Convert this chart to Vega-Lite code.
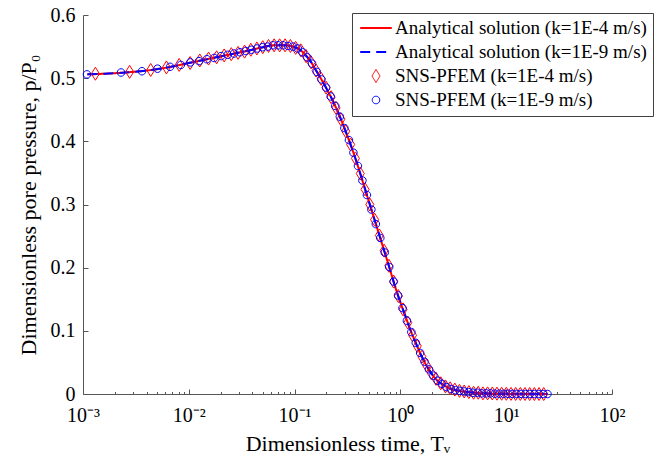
{
  "$schema": "https://vega.github.io/schema/vega-lite/v6.json",
  "width": 529,
  "height": 379,
  "autosize": "none",
  "padding": {"left": 83, "top": 15, "right": 42, "bottom": 71},
  "background": "white",
  "config": {
    "view": {"stroke": null},
    "font": "Liberation Serif",
    "axis": {
      "grid": false,
      "domainColor": "#555555",
      "domainWidth": 1,
      "tickColor": "#555555",
      "tickWidth": 1,
      "labelFont": "Liberation Serif",
      "labelFontSize": 20,
      "labelColor": "#000000",
      "titleFont": "Liberation Serif",
      "titleFontWeight": "normal",
      "titleColor": "#000000",
      "titleFontSize": 22,
      "labelOverlap": false,
      "labelFlush": false
    },
    "legend": {
      "orient": "none",
      "legendX": 269,
      "legendY": -2,
      "strokeColor": "#404040",
      "fillColor": "#ffffff",
      "padding": 5.5,
      "labelFont": "Liberation Serif",
      "labelFontSize": 19,
      "labelColor": "#000000",
      "labelLimit": 400,
      "symbolSize": 169,
      "symbolOffset": 9,
      "labelOffset": 9.5,
      "rowPadding": 4,
      "symbolStrokeWidth": 1
    }
  },
  "datasets": {
    "lines": [
      {"s": "A4", "t": 0.0011, "p": 0.506}, {"s": "A4", "t": 0.001585, "p": 0.507}, {"s": "A4", "t": 0.002512, "p": 0.509},
      {"s": "A4", "t": 0.003981, "p": 0.512}, {"s": "A4", "t": 0.00631, "p": 0.517}, {"s": "A4", "t": 0.01, "p": 0.524},
      {"s": "A4", "t": 0.01585, "p": 0.531}, {"s": "A4", "t": 0.02512, "p": 0.538}, {"s": "A4", "t": 0.03981, "p": 0.545},
      {"s": "A4", "t": 0.05012, "p": 0.549}, {"s": "A4", "t": 0.0631, "p": 0.552}, {"s": "A4", "t": 0.07943, "p": 0.552},
      {"s": "A4", "t": 0.1, "p": 0.549}, {"s": "A4", "t": 0.1122, "p": 0.545}, {"s": "A4", "t": 0.1259, "p": 0.537},
      {"s": "A4", "t": 0.1413, "p": 0.527}, {"s": "A4", "t": 0.1585, "p": 0.513}, {"s": "A4", "t": 0.1778, "p": 0.499},
      {"s": "A4", "t": 0.1995, "p": 0.484}, {"s": "A4", "t": 0.2239, "p": 0.468}, {"s": "A4", "t": 0.2512, "p": 0.45},
      {"s": "A4", "t": 0.2818, "p": 0.43}, {"s": "A4", "t": 0.3162, "p": 0.408}, {"s": "A4", "t": 0.3548, "p": 0.385},
      {"s": "A4", "t": 0.3981, "p": 0.36}, {"s": "A4", "t": 0.4467, "p": 0.333}, {"s": "A4", "t": 0.5012, "p": 0.306},
      {"s": "A4", "t": 0.5623, "p": 0.279}, {"s": "A4", "t": 0.631, "p": 0.252}, {"s": "A4", "t": 0.7079, "p": 0.225},
      {"s": "A4", "t": 0.7943, "p": 0.198}, {"s": "A4", "t": 0.8913, "p": 0.17}, {"s": "A4", "t": 1, "p": 0.145},
      {"s": "A4", "t": 1.122, "p": 0.122}, {"s": "A4", "t": 1.259, "p": 0.099}, {"s": "A4", "t": 1.413, "p": 0.079},
      {"s": "A4", "t": 1.585, "p": 0.06}, {"s": "A4", "t": 1.778, "p": 0.044}, {"s": "A4", "t": 1.995, "p": 0.031},
      {"s": "A4", "t": 2.239, "p": 0.021}, {"s": "A4", "t": 2.512, "p": 0.015}, {"s": "A4", "t": 2.818, "p": 0.01},
      {"s": "A4", "t": 3.162, "p": 0.007}, {"s": "A4", "t": 3.981, "p": 0.004}, {"s": "A4", "t": 5.012, "p": 0.002},
      {"s": "A4", "t": 6.31, "p": 0.001}, {"s": "A4", "t": 10, "p": 0.0002}, {"s": "A4", "t": 15.85, "p": 0},
      {"s": "A4", "t": 24.55, "p": 0},
      {"s": "A9", "t": 0.0011, "p": 0.506}, {"s": "A9", "t": 0.001585, "p": 0.507}, {"s": "A9", "t": 0.002512, "p": 0.509},
      {"s": "A9", "t": 0.003981, "p": 0.512}, {"s": "A9", "t": 0.00631, "p": 0.517}, {"s": "A9", "t": 0.01, "p": 0.524},
      {"s": "A9", "t": 0.01585, "p": 0.531}, {"s": "A9", "t": 0.02512, "p": 0.538}, {"s": "A9", "t": 0.03981, "p": 0.545},
      {"s": "A9", "t": 0.05012, "p": 0.549}, {"s": "A9", "t": 0.0631, "p": 0.552}, {"s": "A9", "t": 0.07943, "p": 0.552},
      {"s": "A9", "t": 0.1, "p": 0.549}, {"s": "A9", "t": 0.1122, "p": 0.545}, {"s": "A9", "t": 0.1259, "p": 0.537},
      {"s": "A9", "t": 0.1413, "p": 0.527}, {"s": "A9", "t": 0.1585, "p": 0.513}, {"s": "A9", "t": 0.1778, "p": 0.499},
      {"s": "A9", "t": 0.1995, "p": 0.484}, {"s": "A9", "t": 0.2239, "p": 0.468}, {"s": "A9", "t": 0.2512, "p": 0.45},
      {"s": "A9", "t": 0.2818, "p": 0.43}, {"s": "A9", "t": 0.3162, "p": 0.408}, {"s": "A9", "t": 0.3548, "p": 0.385},
      {"s": "A9", "t": 0.3981, "p": 0.36}, {"s": "A9", "t": 0.4467, "p": 0.333}, {"s": "A9", "t": 0.5012, "p": 0.306},
      {"s": "A9", "t": 0.5623, "p": 0.279}, {"s": "A9", "t": 0.631, "p": 0.252}, {"s": "A9", "t": 0.7079, "p": 0.225},
      {"s": "A9", "t": 0.7943, "p": 0.198}, {"s": "A9", "t": 0.8913, "p": 0.17}, {"s": "A9", "t": 1, "p": 0.145},
      {"s": "A9", "t": 1.122, "p": 0.122}, {"s": "A9", "t": 1.259, "p": 0.099}, {"s": "A9", "t": 1.413, "p": 0.079},
      {"s": "A9", "t": 1.585, "p": 0.06}, {"s": "A9", "t": 1.778, "p": 0.044}, {"s": "A9", "t": 1.995, "p": 0.031},
      {"s": "A9", "t": 2.239, "p": 0.021}, {"s": "A9", "t": 2.512, "p": 0.015}, {"s": "A9", "t": 2.818, "p": 0.01},
      {"s": "A9", "t": 3.162, "p": 0.007}, {"s": "A9", "t": 3.981, "p": 0.004}, {"s": "A9", "t": 5.012, "p": 0.002},
      {"s": "A9", "t": 6.31, "p": 0.001}, {"s": "A9", "t": 10, "p": 0.0002}, {"s": "A9", "t": 15.85, "p": 0},
      {"s": "A9", "t": 24.55, "p": 0}
    ],
    "pts": [
      {"s": "S4", "t": 0.00131, "p": 0.507}, {"s": "S4", "t": 0.00276, "p": 0.51}, {"s": "S4", "t": 0.004365, "p": 0.513},
      {"s": "S4", "t": 0.006143, "p": 0.517}, {"s": "S4", "t": 0.00811, "p": 0.521}, {"s": "S4", "t": 0.01029, "p": 0.524},
      {"s": "S4", "t": 0.0127, "p": 0.528}, {"s": "S4", "t": 0.01537, "p": 0.531}, {"s": "S4", "t": 0.01832, "p": 0.533},
      {"s": "S4", "t": 0.02159, "p": 0.536}, {"s": "S4", "t": 0.02521, "p": 0.538}, {"s": "S4", "t": 0.02922, "p": 0.54},
      {"s": "S4", "t": 0.03366, "p": 0.542}, {"s": "S4", "t": 0.03857, "p": 0.545}, {"s": "S4", "t": 0.04401, "p": 0.547},
      {"s": "S4", "t": 0.05002, "p": 0.549}, {"s": "S4", "t": 0.05669, "p": 0.551}, {"s": "S4", "t": 0.06406, "p": 0.552},
      {"s": "S4", "t": 0.07223, "p": 0.552}, {"s": "S4", "t": 0.08126, "p": 0.552}, {"s": "S4", "t": 0.09127, "p": 0.551},
      {"s": "S4", "t": 0.1023, "p": 0.548}, {"s": "S4", "t": 0.1146, "p": 0.544}, {"s": "S4", "t": 0.1282, "p": 0.535},
      {"s": "S4", "t": 0.1432, "p": 0.525}, {"s": "S4", "t": 0.1598, "p": 0.512}, {"s": "S4", "t": 0.1783, "p": 0.499},
      {"s": "S4", "t": 0.1986, "p": 0.485}, {"s": "S4", "t": 0.2212, "p": 0.47}, {"s": "S4", "t": 0.2462, "p": 0.453},
      {"s": "S4", "t": 0.2738, "p": 0.435}, {"s": "S4", "t": 0.3044, "p": 0.416}, {"s": "S4", "t": 0.3383, "p": 0.395},
      {"s": "S4", "t": 0.3758, "p": 0.373}, {"s": "S4", "t": 0.4174, "p": 0.349}, {"s": "S4", "t": 0.4633, "p": 0.324},
      {"s": "S4", "t": 0.5142, "p": 0.3}, {"s": "S4", "t": 0.5705, "p": 0.276}, {"s": "S4", "t": 0.6329, "p": 0.251},
      {"s": "S4", "t": 0.7019, "p": 0.227}, {"s": "S4", "t": 0.7783, "p": 0.203}, {"s": "S4", "t": 0.8629, "p": 0.178},
      {"s": "S4", "t": 0.9566, "p": 0.155}, {"s": "S4", "t": 1.06, "p": 0.134}, {"s": "S4", "t": 1.175, "p": 0.113},
      {"s": "S4", "t": 1.302, "p": 0.093}, {"s": "S4", "t": 1.443, "p": 0.076}, {"s": "S4", "t": 1.598, "p": 0.059},
      {"s": "S4", "t": 1.771, "p": 0.045}, {"s": "S4", "t": 1.961, "p": 0.033}, {"s": "S4", "t": 2.173, "p": 0.024},
      {"s": "S4", "t": 2.406, "p": 0.017}, {"s": "S4", "t": 2.665, "p": 0.012}, {"s": "S4", "t": 2.952, "p": 0.009},
      {"s": "S4", "t": 3.269, "p": 0.007}, {"s": "S4", "t": 3.62, "p": 0.005}, {"s": "S4", "t": 4.008, "p": 0.004},
      {"s": "S4", "t": 4.439, "p": 0.003}, {"s": "S4", "t": 4.915, "p": 0.002}, {"s": "S4", "t": 5.442, "p": 0.002},
      {"s": "S4", "t": 6.026, "p": 0.001}, {"s": "S4", "t": 6.672, "p": 0.001}, {"s": "S4", "t": 7.387, "p": 0.0008},
      {"s": "S4", "t": 8.179, "p": 0.0005}, {"s": "S4", "t": 9.055, "p": 0.0004}, {"s": "S4", "t": 10.03, "p": 0.0003},
      {"s": "S4", "t": 11.1, "p": 0.0002}, {"s": "S4", "t": 12.29, "p": 0.0001}, {"s": "S4", "t": 13.6, "p": 0.0001},
      {"s": "S4", "t": 15.06, "p": 0}, {"s": "S4", "t": 16.67, "p": 0}, {"s": "S4", "t": 18.46, "p": 0},
      {"s": "S4", "t": 20.44, "p": 0}, {"s": "S4", "t": 22.62, "p": 0},
      {"s": "S9", "t": 0.00109, "p": 0.506}, {"s": "S9", "t": 0.002289, "p": 0.509}, {"s": "S9", "t": 0.003608, "p": 0.511},
      {"s": "S9", "t": 0.005059, "p": 0.515}, {"s": "S9", "t": 0.006655, "p": 0.518}, {"s": "S9", "t": 0.00841, "p": 0.521},
      {"s": "S9", "t": 0.01034, "p": 0.525}, {"s": "S9", "t": 0.01247, "p": 0.527}, {"s": "S9", "t": 0.0148, "p": 0.53},
      {"s": "S9", "t": 0.01737, "p": 0.532}, {"s": "S9", "t": 0.0202, "p": 0.535}, {"s": "S9", "t": 0.02331, "p": 0.537},
      {"s": "S9", "t": 0.02673, "p": 0.539}, {"s": "S9", "t": 0.03049, "p": 0.541}, {"s": "S9", "t": 0.03463, "p": 0.543},
      {"s": "S9", "t": 0.03919, "p": 0.545}, {"s": "S9", "t": 0.04419, "p": 0.547}, {"s": "S9", "t": 0.0497, "p": 0.549},
      {"s": "S9", "t": 0.05576, "p": 0.55}, {"s": "S9", "t": 0.06243, "p": 0.552}, {"s": "S9", "t": 0.06976, "p": 0.552},
      {"s": "S9", "t": 0.07783, "p": 0.552}, {"s": "S9", "t": 0.0867, "p": 0.551}, {"s": "S9", "t": 0.09646, "p": 0.55},
      {"s": "S9", "t": 0.1072, "p": 0.547}, {"s": "S9", "t": 0.119, "p": 0.541}, {"s": "S9", "t": 0.132, "p": 0.533},
      {"s": "S9", "t": 0.1463, "p": 0.523}, {"s": "S9", "t": 0.162, "p": 0.51}, {"s": "S9", "t": 0.1793, "p": 0.498},
      {"s": "S9", "t": 0.1983, "p": 0.485}, {"s": "S9", "t": 0.2192, "p": 0.471}, {"s": "S9", "t": 0.2423, "p": 0.456},
      {"s": "S9", "t": 0.2676, "p": 0.439}, {"s": "S9", "t": 0.2954, "p": 0.421}, {"s": "S9", "t": 0.3261, "p": 0.402},
      {"s": "S9", "t": 0.3597, "p": 0.382}, {"s": "S9", "t": 0.3968, "p": 0.361}, {"s": "S9", "t": 0.4376, "p": 0.338},
      {"s": "S9", "t": 0.4824, "p": 0.315}, {"s": "S9", "t": 0.5318, "p": 0.292}, {"s": "S9", "t": 0.586, "p": 0.269},
      {"s": "S9", "t": 0.6457, "p": 0.247}, {"s": "S9", "t": 0.7114, "p": 0.224}, {"s": "S9", "t": 0.7836, "p": 0.201},
      {"s": "S9", "t": 0.8631, "p": 0.178}, {"s": "S9", "t": 0.9505, "p": 0.156}, {"s": "S9", "t": 1.047, "p": 0.136},
      {"s": "S9", "t": 1.152, "p": 0.116}, {"s": "S9", "t": 1.269, "p": 0.098}, {"s": "S9", "t": 1.397, "p": 0.081},
      {"s": "S9", "t": 1.537, "p": 0.065}, {"s": "S9", "t": 1.692, "p": 0.051}, {"s": "S9", "t": 1.863, "p": 0.039},
      {"s": "S9", "t": 2.05, "p": 0.029}, {"s": "S9", "t": 2.256, "p": 0.021}, {"s": "S9", "t": 2.483, "p": 0.016},
      {"s": "S9", "t": 2.732, "p": 0.011}, {"s": "S9", "t": 3.006, "p": 0.008}, {"s": "S9", "t": 3.308, "p": 0.006},
      {"s": "S9", "t": 3.64, "p": 0.005}, {"s": "S9", "t": 4.005, "p": 0.004}, {"s": "S9", "t": 4.407, "p": 0.003},
      {"s": "S9", "t": 4.848, "p": 0.002}, {"s": "S9", "t": 5.334, "p": 0.002}, {"s": "S9", "t": 5.869, "p": 0.001},
      {"s": "S9", "t": 6.457, "p": 0.001}, {"s": "S9", "t": 7.103, "p": 0.001}, {"s": "S9", "t": 7.815, "p": 0.0005},
      {"s": "S9", "t": 8.597, "p": 0.0005}, {"s": "S9", "t": 9.458, "p": 0.0003}, {"s": "S9", "t": 10.41, "p": 0.0003},
      {"s": "S9", "t": 11.45, "p": 0.0002}, {"s": "S9", "t": 12.59, "p": 0.0001}, {"s": "S9", "t": 13.85, "p": 0.0001},
      {"s": "S9", "t": 15.24, "p": 0}, {"s": "S9", "t": 16.76, "p": 0}, {"s": "S9", "t": 18.44, "p": 0},
      {"s": "S9", "t": 20.29, "p": 0}, {"s": "S9", "t": 22.32, "p": 0}, {"s": "S9", "t": 24.55, "p": 0}
    ]
  },
  "layer": [
    {
      "data": {"name": "lines"},
      "mark": {"type": "line", "strokeWidth": 2, "interpolate": "monotone"},
      "encoding": {
        "x": {
          "field": "t", "type": "quantitative",
          "scale": {"type": "log", "domain": [0.001, 100], "nice": false},
          "axis": {
            "title": "Dimensionless time, Tᵥ",
            "titlePadding": 6,
            "values": [0.001, 0.002, 0.003, 0.004, 0.005, 0.006, 0.007, 0.008, 0.009,
                       0.01, 0.02, 0.03, 0.04, 0.05, 0.06, 0.07, 0.08, 0.09,
                       0.1, 0.2, 0.3, 0.4, 0.5, 0.6, 0.7, 0.8, 0.9,
                       1, 2, 3, 4, 5, 6, 7, 8, 9,
                       10, 20, 30, 40, 50, 60, 70, 80, 90, 100],
            "labelExpr": "datum.value === 0.001 ? '10⁻³' : datum.value === 0.01 ? '10⁻²' : datum.value === 0.1 ? '10⁻¹' : datum.value === 1 ? '10⁰' : datum.value === 10 ? '10¹' : datum.value === 100 ? '10²' : ''",
            "tickSize": {"condition": {"test": "indexof([0.001, 0.01, 0.1, 1, 10, 100], datum.value) >= 0", "value": -5}, "value": -2.5},
            "labelPadding": 16
          }
        },
        "y": {
          "field": "p", "type": "quantitative",
          "scale": {"domain": [0, 0.6], "nice": false, "zero": false},
          "axis": {
            "title": "Dimensionless pore pressure, p/P₀",
            "values": [0, 0.1, 0.2, 0.3, 0.4, 0.5, 0.6],
            "format": "~g",
            "tickSize": -5,
            "labelPadding": 13,
            "titlePadding": 10
          }
        },
        "color": {
          "field": "s", "type": "nominal", "title": null,
          "scale": {"domain": ["A4", "A9", "S4", "S9"], "range": ["#ff0000", "#0000ff", "#ff0000", "#0000ff"]},
          "legend": {
            "labelExpr": "datum.value === 'A4' ? 'Analytical solution (k=1E-4 m/s)' : datum.value === 'A9' ? 'Analytical solution (k=1E-9 m/s)' : datum.value === 'S4' ? 'SNS-PFEM (k=1E-4 m/s)' : 'SNS-PFEM (k=1E-9 m/s)'",
            "encode": {"symbols": {"update": {
              "size": {"signal": "datum.value === 'A4' || datum.value === 'A9' ? 1000 : 169"},
              "strokeWidth": {"signal": "datum.value === 'A4' || datum.value === 'A9' ? 2 : 1"},
              "fill": {"value": "transparent"}
            }}}
          }
        },
        "strokeDash": {
          "field": "s", "type": "nominal", "title": null,
          "scale": {"domain": ["A4", "A9", "S4", "S9"], "range": [[1, 0], [10, 6], [1, 0], [1, 0]]}
        }
      }
    },
    {
      "data": {"name": "pts"},
      "mark": {"type": "point", "filled": false, "strokeWidth": 1, "size": 169, "opacity": 1},
      "encoding": {
        "x": {"field": "t", "type": "quantitative"},
        "y": {"field": "p", "type": "quantitative"},
        "color": {"field": "s", "type": "nominal", "title": null},
        "shape": {
          "field": "s", "type": "nominal", "title": null,
          "scale": {"domain": ["A4", "A9", "S4", "S9"], "range": ["stroke", "stroke", "M0,-1L0.62,0L0,1L-0.62,0Z", "M0.58,0A0.58,0.58 0 1,1 -0.58,0A0.58,0.58 0 1,1 0.58,0Z"]}
        }
      }
    }
  ]
}
